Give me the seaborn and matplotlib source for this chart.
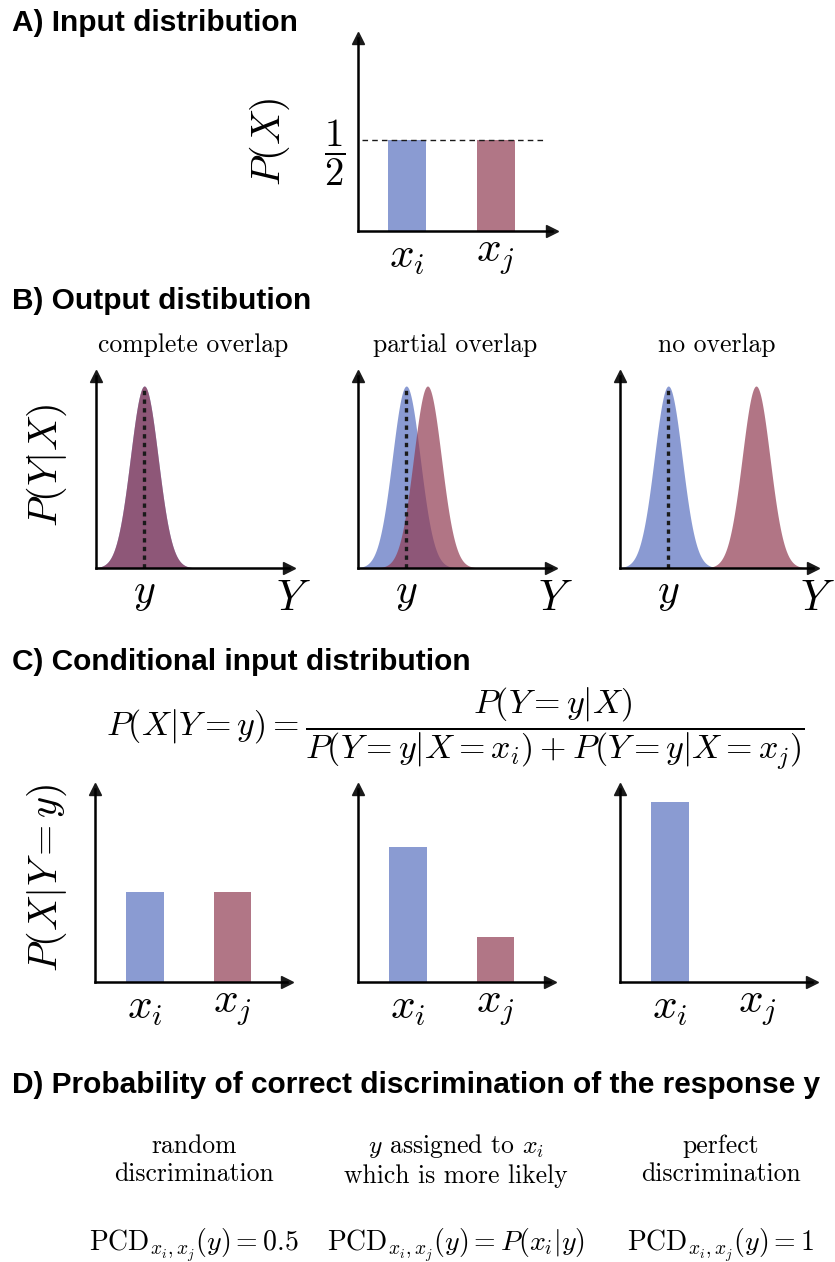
import numpy as np
import pandas as pd
import matplotlib
matplotlib.use("Agg")
import matplotlib.pyplot as plt
import seaborn as sns

sns.set_theme(style="white")
plt.rcParams['font.family'] = ['DejaVu Sans']
plt.rcParams['mathtext.fontset'] = 'cm'
for key in ['text.color', 'axes.labelcolor', 'xtick.color', 'ytick.color']:
    plt.rcParams[key] = 'black'

# ---------------- data ----------------
input_categories = ['x_i', 'x_j']
input_probs = [0.5, 0.5]
tick_labels = [r'$x_i$', r'$x_j$']

scenario_titles = ['complete overlap', 'partial overlap', 'no overlap']
mean_xi = [2.5, 2.5, 2.5]
mean_xj = [2.5, 3.6, 7.05]
sigma_y = 0.72
response_y = [2.5, 2.5, 2.5]

cond_xi = [0.5, 0.75, 1.0]
cond_xj = [0.5, 0.25, 0.0]

pcd_descriptions = ['random\ndiscrimination',
                    '$y$ assigned to $x_i$\nwhich is more likely',
                    'perfect\ndiscrimination']
pcd_formulas = [r'$\mathrm{PCD}_{x_i,x_j}(y) = 0.5$',
                r'$\mathrm{PCD}_{x_i,x_j}(y) = P(x_i|y)$',
                r'$\mathrm{PCD}_{x_i,x_j}(y) = 1$']

# ---------------- style ----------------
BAR_BLUE = '#8a9bd2'
BAR_RED = '#b17686'
CURVE_BLUE = '#5870bf'
CURVE_RED = '#903b52'
CURVE_ALPHA = 0.7
TITLE_FONT = dict(fontsize=21.5, weight='bold', family='Liberation Sans', color='black')
SERIF = 'cmr10'

W, H = 835, 1262
fig = plt.figure(figsize=(W / 100, H / 100), dpi=100)


def add_ax(l, t, r, b):
    return fig.add_axes([l / W, 1 - b / H, (r - l) / W, (b - t) / H])


def ftext(x, y, s, **kw):
    kw.setdefault('ha', 'center')
    kw.setdefault('va', 'center')
    kw.setdefault('color', 'black')
    fig.text(x / W, 1 - y / H, s, **kw)


def arrow_axes(ax):
    for s in ['top', 'right']:
        ax.spines[s].set_visible(False)
    for s in ['left', 'bottom']:
        ax.spines[s].set_visible(True)
        ax.spines[s].set_linewidth(1.8)
        ax.spines[s].set_color('black')
    ax.plot(1, 0, '>', color='k', ms=9, transform=ax.transAxes, clip_on=False)
    ax.plot(0, 1, '^', color='k', ms=9, transform=ax.transAxes, clip_on=False)
    ax.tick_params(length=0)
    ax.set_xlabel('')
    ax.set_ylabel('')


def bar_panel(ax, values, ylim_top):
    df = pd.DataFrame({'X': input_categories, 'P': values})
    sns.barplot(data=df, x='X', y='P', hue='X', palette=[BAR_BLUE, BAR_RED],
                width=0.43, saturation=1, linewidth=0, legend=False, ax=ax)
    ax.set_xlim(-0.565, 1.62)
    ax.set_ylim(0, ylim_top)
    ax.set_xticks([0, 1], tick_labels, fontsize=31)
    ax.set_yticks([])
    ax.tick_params(axis='x', pad=3)
    arrow_axes(ax)


# ---------------- A ----------------
ftext(12, 23, 'A) Input distribution', ha='left', **TITLE_FONT)
axA = add_ax(358, 38, 552, 231)
bar_panel(axA, input_probs, 1.06)
axA.set_xlim(-0.554, 1.638)
axA.axhline(0.5, xmin=0.02, xmax=0.97, color='k', lw=1.0, ls=(0, (4, 3)))
axA.set_yticks([0.5], [r'$\dfrac{1}{2}$'], fontsize=28)
axA.tick_params(axis='y', pad=9)
ftext(270, 142, r'$P(X)$', rotation=90, fontsize=29)

# ---------------- B ----------------
ftext(12, 301, 'B) Output distibution', ha='left', **TITLE_FONT)
grid = np.linspace(0, 10, 600)
b_lefts = [96, 358, 620]
for k in range(3):
    l = b_lefts[k]
    ax = add_ax(l, 376, l + 193, 568)
    di = np.exp(-(grid - mean_xi[k]) ** 2 / (2 * sigma_y ** 2))
    dj = np.exp(-(grid - mean_xj[k]) ** 2 / (2 * sigma_y ** 2))
    ax.fill_between(grid, 0, di, color=CURVE_BLUE, alpha=CURVE_ALPHA, lw=0)
    ax.fill_between(grid, 0, dj, color=CURVE_RED, alpha=CURVE_ALPHA, lw=0)
    ax.vlines(response_y[k], 0, 1, color='k', lw=2.4, linestyles=[(0, (1.3, 1.3))])
    ax.set_xlim(0, 10)
    ax.set_ylim(0, 1.055)
    ax.set_xticks([response_y[k]], [r'$y$'], fontsize=30)
    ax.set_yticks([])
    ax.tick_params(axis='x', pad=2)
    arrow_axes(ax)
    ftext(l + 97, 345, scenario_titles[k], family=SERIF, fontsize=18.5)
    ftext(l + 197, 598, r'$Y$', fontsize=31)
ftext(47, 465, r'$P(Y|X)$', rotation=90, fontsize=29)

# ---------------- C ----------------
ftext(12, 662, 'C) Conditional input distribution', ha='left', **TITLE_FONT)
ftext(455, 729,
      r'$P(X|Y=y) = \dfrac{P(Y=y|X)}{P(Y=y|X=x_i)+P(Y=y|X=x_j)}$',
      fontsize=24.5)
c_lefts = [95, 358, 620]
for k in range(3):
    l = c_lefts[k]
    ax = add_ax(l, 789, l + 192, 982)
    bar_panel(ax, [cond_xi[k], cond_xj[k]], 1.072)
ftext(47, 878, r'$P(X|Y=y)$', rotation=90, fontsize=29)

# ---------------- D ----------------
ftext(12, 1085, 'D) Probability of correct discrimination of the response y',
      ha='left', **TITLE_FONT)
d_centers = [194, 456, 721]
for k in range(3):
    ftext(d_centers[k], 1160, pcd_descriptions[k], family=SERIF, fontsize=18.5,
          linespacing=1.2, multialignment='center')
    ftext(d_centers[k], 1245, pcd_formulas[k], fontsize=20)

fig.savefig('out.png', dpi=100)
